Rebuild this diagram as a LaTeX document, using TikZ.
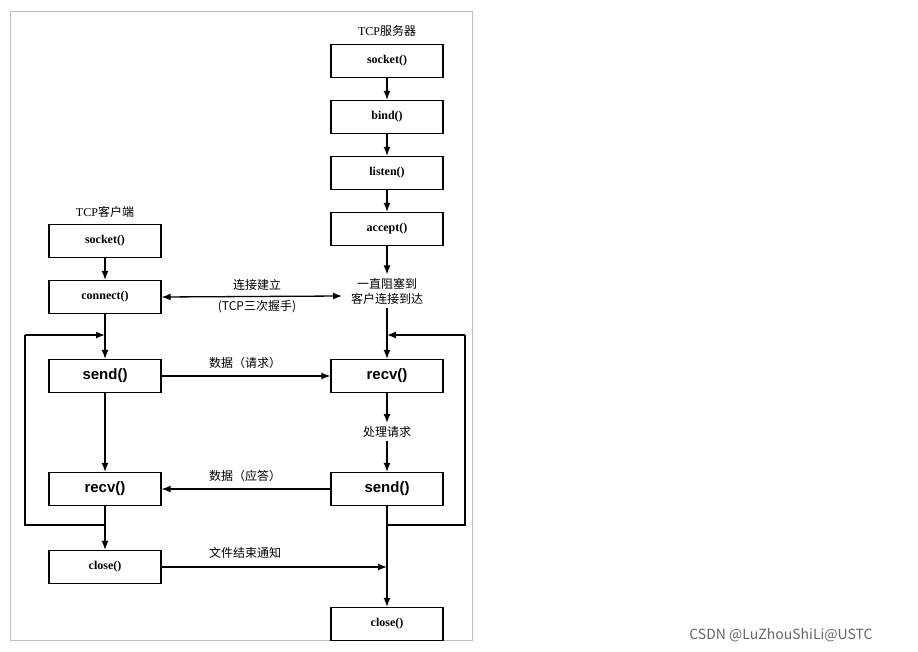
\documentclass[tikz,border=0pt]{standalone}
\usepackage{fontspec}
\setmainfont{Liberation Serif}
\newfontfamily\cjk{Noto Sans CJK SC}
\newfontfamily\sans{Liberation Sans}
\usetikzlibrary{arrows.meta}
\begin{document}
\begin{tikzpicture}[x=1pt,y=-1pt,
  box/.style={draw,line width=1.3pt,minimum width=112pt,minimum height=33pt,inner sep=0pt,font=\bfseries\fontsize{12}{13}\selectfont},
  bb/.style={box,font=\sans\bfseries\fontsize{15}{16}\selectfont},
  lab/.style={font=\cjk\fontsize{12}{15}\selectfont,align=center},
  ar/.style={draw,line width=1.3pt,-{Latex[length=9pt,width=7pt]}},
  ln/.style={draw,line width=1.3pt}]
\useasboundingbox (0,0) rectangle (918,652);
\draw[gray!50,line width=1pt] (10,12) rectangle (472,640);
% server
\node[font=\fontsize{12}{13}\selectfont] (st) at (387,31) {TCP\cjk 服务器};
\node[box] (ss) at (387,61) {socket()};
\node[box] (sb) at (387,117) {bind()};
\node[box] (sl) at (387,173) {listen()};
\node[box] (sa) at (387,229) {accept()};
\node[lab] (blk) at (387,291) {一直阻塞到\\客户连接到达};
\node[bb] (sr) at (387,376) {recv()};
\node[lab] (proc) at (387,432) {处理请求};
\node[bb] (ssd) at (387,489) {send()};
\node[box] (sc) at (387,624) {close()};
% client
\node[font=\fontsize{12}{13}\selectfont] (ct) at (105,212) {TCP\cjk 客户端};
\node[box] (cs) at (105,241) {socket()};
\node[box] (cc) at (105,297) {connect()};
\node[bb] (csd) at (105,376) {send()};
\node[bb] (cr) at (105,489) {recv()};
\node[box] (ccl) at (105,567) {close()};
% coordinates
\coordinate (lj) at (105,335);
\coordinate (rj) at (387,335);
\coordinate (lb) at (105,525);
\coordinate (rb) at (387,525);
\coordinate (cend) at (342,296);
\coordinate (fin) at (387,567);
% server chain
\path[ar] (ss) -- (sb);
\path[ar] (sb) -- (sl);
\path[ar] (sl) -- (sa);
\path[ar] (sa) -- (blk);
\path[ar] (blk) -- (sr);
\path[ar] (sr) -- (proc);
\path[ar] (proc) -- (ssd);
\path[ar] (ssd) -- (sc);
\path[ln] (rb) -- (465,525) -- (465,335);
\path[ar] (465,335) -- (rj);
% client chain
\path[ar] (cs) -- (cc);
\path[ar] (cc) -- (csd);
\path[ar] (csd) -- (cr);
\path[ar] (cr) -- (ccl);
\path[ln] (lb) -- (25,525) -- (25,335);
\path[ar] (25,335) -- (lj);
% messages
\path[draw,line width=1.3pt,{Latex[length=9pt,width=7pt]}-{Latex[length=9pt,width=7pt]}] (cc.east) -- (cend);
\node[lab] (l1) at (257,285) {连接建立};
\node[lab] (l2) at (257,307) {(TCP三次握手)};
\path[ar] (csd.east) -- (sr.west);
\node[lab] (l3) at (245,363) {数据（请求）};
\path[ar] (ssd.west) -- (cr.east);
\node[lab] (l4) at (245,476) {数据（应答）};
\path[ar] (ccl.east) -- (fin);
\node[lab] (l5) at (245,553) {文件结束通知};
\node[font=\cjk\fontsize{14}{16}\selectfont,gray!80!black] (wm) at (781,635) {CSDN @LuZhouShiLi@USTC};
\end{tikzpicture}
\end{document}
